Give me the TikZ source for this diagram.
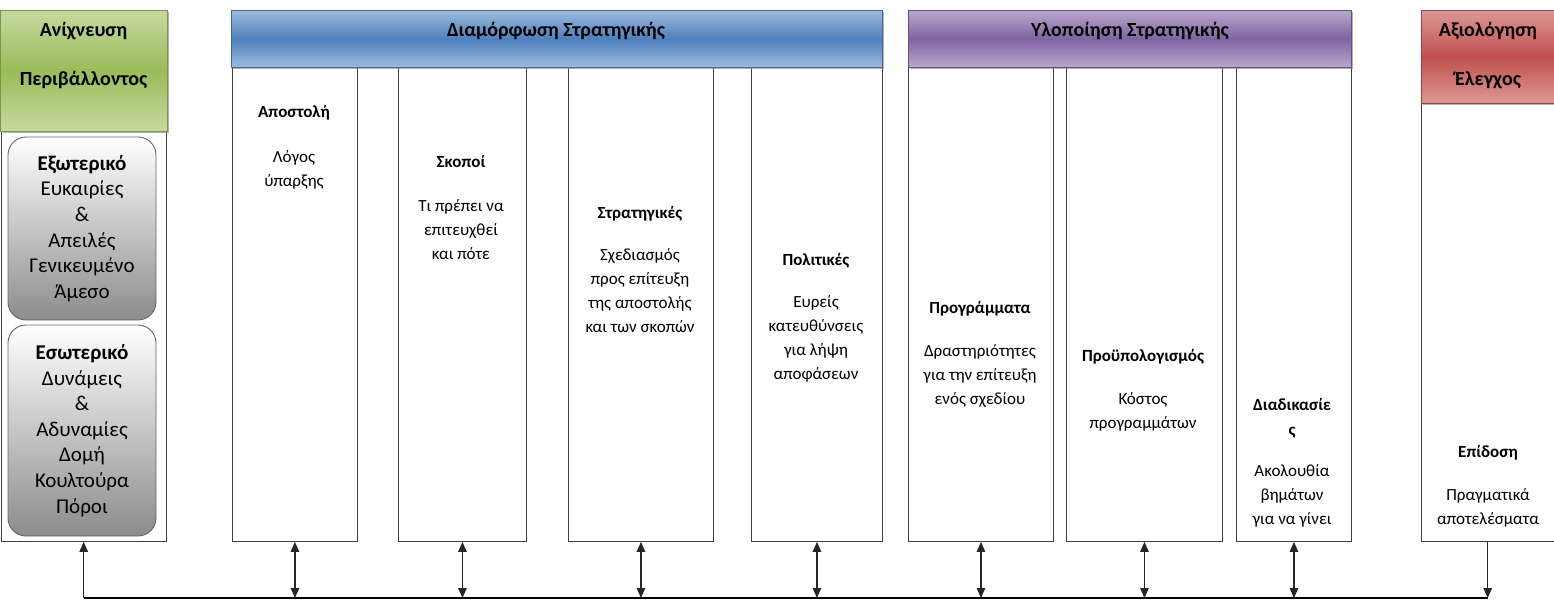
\documentclass[tikz,border=0pt]{standalone}
\usepackage{fontspec}
\setmainfont{Carlito}
\usetikzlibrary{arrows.meta,shadows}
\definecolor{grnM}{HTML}{9BBB59}\definecolor{grnL}{HTML}{C6D9A0}
\definecolor{bluM}{HTML}{4F81BD}\definecolor{bluL}{HTML}{9DB9DD}
\definecolor{purM}{HTML}{8064A2}\definecolor{purL}{HTML}{B8A8CC}
\definecolor{redM}{HTML}{C0504D}\definecolor{redL}{HTML}{DC9896}
\definecolor{frameC}{HTML}{404040}
\begin{document}
\begin{tikzpicture}[x=1pt,y=1pt,
  col/.style={draw=frameC,line width=0.9pt,fill=white,anchor=north west,inner sep=0pt},
  hdr/.style={anchor=north west,inner sep=0pt,draw=#1M!80!black,line width=0.6pt,
     top color=#1L,bottom color=#1L,middle color=#1M,
     drop shadow={shadow xshift=2pt,shadow yshift=-2pt,opacity=0.6}},
  hdrtxt/.style={align=center,inner sep=0pt,font=\fontsize{20}{22}\selectfont\bfseries},
  greybox/.style={draw=black!60,line width=0.9pt,rounded corners=18pt,top color=white,bottom color=black!45,
     align=center,inner sep=0pt,minimum width=148pt,font=\fontsize{21}{25.6}\selectfont},
  coltxt/.style={align=center,inner sep=0pt,font=\fontsize{17}{24}\selectfont},
  bus/.style={draw=black,line width=1.4pt},
  arr/.style={draw=black!85,line width=1.1pt,-{Triangle[length=10pt,width=8.5pt]}},
  darr/.style={draw=black!85,line width=1.1pt,{Triangle[length=10pt,width=8.5pt]}-{Triangle[length=10pt,width=8.5pt]}}
]
\useasboundingbox (0,0) rectangle (1554,-600);
% columns
\node[col,minimum width=165.5pt,minimum height=410pt] (envcol) at (0.5,-131) {};
\node[col,minimum width=125pt,minimum height=474pt] (apcol) at (232,-67) {};
\node[col,minimum width=128pt,minimum height=474pt] (skcol) at (398,-67) {};
\node[col,minimum width=145pt,minimum height=474pt] (stcol) at (568,-67) {};
\node[col,minimum width=131pt,minimum height=474pt] (pocol) at (751,-67) {};
\node[col,minimum width=145pt,minimum height=474pt] (prcol) at (908,-67) {};
\node[col,minimum width=156pt,minimum height=474pt] (bucol) at (1066,-67) {};
\node[col,minimum width=115pt,minimum height=474pt] (dicol) at (1236,-67) {};
\node[col,minimum width=132.5pt,minimum height=438pt] (epcol) at (1421,-103) {};
% headers
\node[hdr=grn,minimum width=166.5pt,minimum height=121pt] (envhdr) at (0.5,-10) {};
\node[hdr=blu,minimum width=651pt,minimum height=57pt] (formhdr) at (231,-10) {};
\node[hdr=pur,minimum width=443pt,minimum height=57pt] (implhdr) at (908,-10) {};
\node[hdr=red,minimum width=133pt,minimum height=93pt] (evalhdr) at (1421,-10) {};
\node[hdrtxt] (envtxt) at (83.5,-55.5) {Ανίχνευση\\[27pt]Περιβάλλοντος};
\node[hdrtxt] (formtxt) at (556,-31) {Διαμόρφωση Στρατηγικής};
\node[hdrtxt] (impltxt) at (1130,-31) {Υλοποίηση Στρατηγικής};
\node[hdrtxt] (evaltxt) at (1488,-55.5) {Αξιολόγηση\\[27pt]Έλεγχος};
% grey boxes
\node[greybox,minimum height=183pt] (ext) at (82,-228.5) {\textbf{Εξωτερικό}\\Ευκαιρίες\\\&\\Απειλές\\Γενικευμένο\\Άμεσο};
\node[greybox,minimum height=211pt] (int) at (82,-430.5) {\textbf{Εσωτερικό}\\Δυνάμεις\\\&\\Αδυναμίες\\Δομή\\Κουλτούρα\\Πόροι};
% column texts
\node[coltxt] (aptxt) at (294,-147.5) {\textbf{Αποστολή}\\[21pt]Λόγος\\ύπαρξης};
\node[coltxt] (sktxt) at (461,-207.5) {\textbf{Σκοποί}\\[20pt]Τι πρέπει να\\επιτευχθεί\\και πότε};
\node[coltxt] (sttxt) at (640,-269) {\textbf{Στρατηγικές}\\[18pt]Σχεδιασμός\\προς επίτευξη\\της αποστολής\\και των σκοπών};
\node[coltxt] (potxt) at (816,-318) {\textbf{Πολιτικές}\\[18pt]Ευρείς\\κατευθύνσεις\\για λήψη\\αποφάσεων};
\node[coltxt] (prtxt) at (980,-354.5) {\textbf{Προγράμματα}\\[19pt]Δραστηριότητες\\για την επίτευξη\\ενός σχεδίου};
\node[coltxt] (butxt) at (1143,-390.5) {\textbf{Προϋπολογισμός}\\[19pt]Κόστος\\προγραμμάτων};
\node[coltxt] (ditxt) at (1292,-463) {\textbf{Διαδικασίε}\\[1pt]\textbf{ς}\\[17pt]Ακολουθία\\βημάτων\\για να γίνει};
\node[coltxt] (eptxt) at (1488,-486.5) {\textbf{Επίδοση}\\[19pt]Πραγματικά\\αποτελέσματα};
% connectors
\coordinate (busy) at (0,-598);
\draw[bus] (envcol.south |- busy) -- (epcol.south |- busy);
\draw[arr] (envcol.south |- busy) -- (envcol.south);
\foreach \c in {apcol,skcol,stcol,pocol,prcol,bucol,dicol}
  \draw[darr] (\c.south) -- (\c.south |- busy);
\draw[arr] (epcol.south) -- (epcol.south |- busy);
\end{tikzpicture}
\end{document}
